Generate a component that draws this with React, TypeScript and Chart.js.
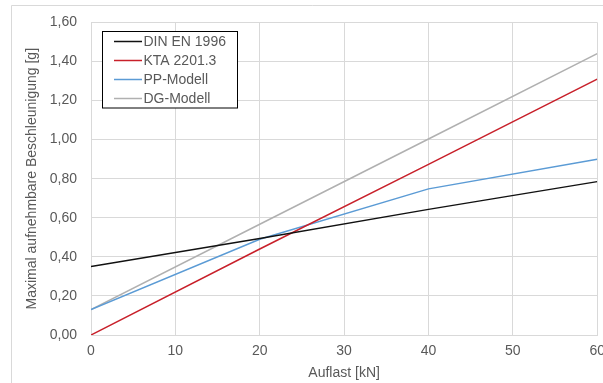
import React, { useEffect, useRef } from "react";
import { Chart, registerables } from "chart.js";

Chart.register(...registerables);

// Data
const auflast = [0, 20, 40, 60];
const dinEn1996 = [0.35, 0.494, 0.643, 0.785];
const kta2201 = [0, 0.44, 0.873, 1.31];
const ppModell = [0.13, 0.49, 0.748, 0.9];
const dgModell = [0.13, 0.567, 1.003, 1.44];

const seriesLabels = ["DIN EN 1996", "KTA 2201.3", "PP-Modell", "DG-Modell"];
const seriesColors = ["#111111", "#c8202a", "#5b9bd5", "#b0b0b0"];
const seriesValues = [dinEn1996, kta2201, ppModell, dgModell];

const yTitle = "Maximal aufnehmbare Beschleunigung [g]";
const xTitle = "Auflast [kN]";

const FONT = "'Liberation Sans', Arial, sans-serif";
const TEXT = "#595959";
const GRID = "#d9d9d9";

const frame = {
  id: "frame",
  beforeDraw(chart: any) {
    const ctx = chart.ctx;
    ctx.save();
    ctx.fillStyle = "#ffffff";
    ctx.fillRect(0, 0, chart.width, chart.height);
    ctx.strokeStyle = GRID;
    ctx.lineWidth = 1;
    ctx.beginPath();
    ctx.moveTo(11.5, chart.height);
    ctx.lineTo(11.5, 5.5);
    ctx.lineTo(chart.width, 5.5);
    ctx.stroke();
    ctx.restore();
  },
};

const boxLegend = {
  id: "boxLegend",
  afterDraw(chart: any) {
    const ctx = chart.ctx;
    const x0 = 102.5;
    const y0 = 31.5;
    const w = 135;
    const h = 76.5;
    ctx.save();
    ctx.fillStyle = "#ffffff";
    ctx.fillRect(x0, y0, w, h);
    ctx.strokeStyle = "#000000";
    ctx.lineWidth = 1;
    ctx.strokeRect(x0, y0, w, h);
    ctx.font = `14px ${FONT}`;
    ctx.textBaseline = "middle";
    ctx.textAlign = "left";
    chart.data.datasets.forEach((ds: any, i: number) => {
      const cy = 41.5 + i * 19;
      ctx.strokeStyle = ds.borderColor;
      ctx.lineWidth = 1.5;
      ctx.beginPath();
      ctx.moveTo(114, cy);
      ctx.lineTo(142, cy);
      ctx.stroke();
      ctx.fillStyle = TEXT;
      ctx.fillText(ds.label, 143.5, cy + 0.5);
    });
    ctx.restore();
  },
};

export default function App() {
  const ref = useRef<HTMLCanvasElement | null>(null);

  useEffect(() => {
    if (!ref.current) return;
    const datasets = seriesLabels.map((label, i) => ({
      label,
      data: auflast.map((x, j) => ({ x, y: seriesValues[i][j] })),
      borderColor: seriesColors[i],
      backgroundColor: seriesColors[i],
      borderWidth: 1.5,
      pointRadius: 0,
      tension: 0,
      fill: false,
    }));
    const chart = new Chart(ref.current, {
      type: "line",
      data: { datasets },
      plugins: [frame, boxLegend],
      options: {
        animation: false,
        responsive: false,
        devicePixelRatio: 1,
        layout: { padding: { left: 20, right: 13, top: 18, bottom: 0 } },
        plugins: {
          legend: { display: false },
          tooltip: { enabled: false },
        },
        scales: {
          x: {
            type: "linear",
            min: 0,
            max: 60,
            ticks: {
              stepSize: 10,
              color: TEXT,
              font: { family: FONT, size: 14 },
              padding: 8,
              maxRotation: 0,
            },
            grid: { color: GRID, drawTicks: false },
            border: { color: GRID },
            title: {
              display: true,
              text: xTitle,
              color: TEXT,
              font: { family: FONT, size: 14 },
              padding: { top: 0, bottom: 1 },
            },
            afterFit(scale: any) {
              scale.height = 48;
            },
          },
          y: {
            type: "linear",
            min: 0,
            max: 1.6,
            ticks: {
              stepSize: 0.2,
              color: TEXT,
              font: { family: FONT, size: 14 },
              padding: 14,
              callback: (v: any) => Number(v).toFixed(2).replace(".", ","),
            },
            grid: { color: GRID, drawTicks: false },
            border: { color: GRID },
            title: {
              display: true,
              text: yTitle,
              color: TEXT,
              font: { family: FONT, size: 14 },
              padding: { top: 4, bottom: 4 },
            },
            afterFit(scale: any) {
              scale.width = 71;
            },
          },
        },
      },
    });
    return () => chart.destroy();
  }, []);

  return (
    <div
      style={{
        position: "fixed",
        left: 0,
        top: 0,
        width: 603,
        height: 383,
        overflow: "hidden",
        background: "#ffffff",
      }}
    >
      <canvas ref={ref} width={613} height={383} style={{ display: "block", width: 613, height: 383 }} />
    </div>
  );
}
